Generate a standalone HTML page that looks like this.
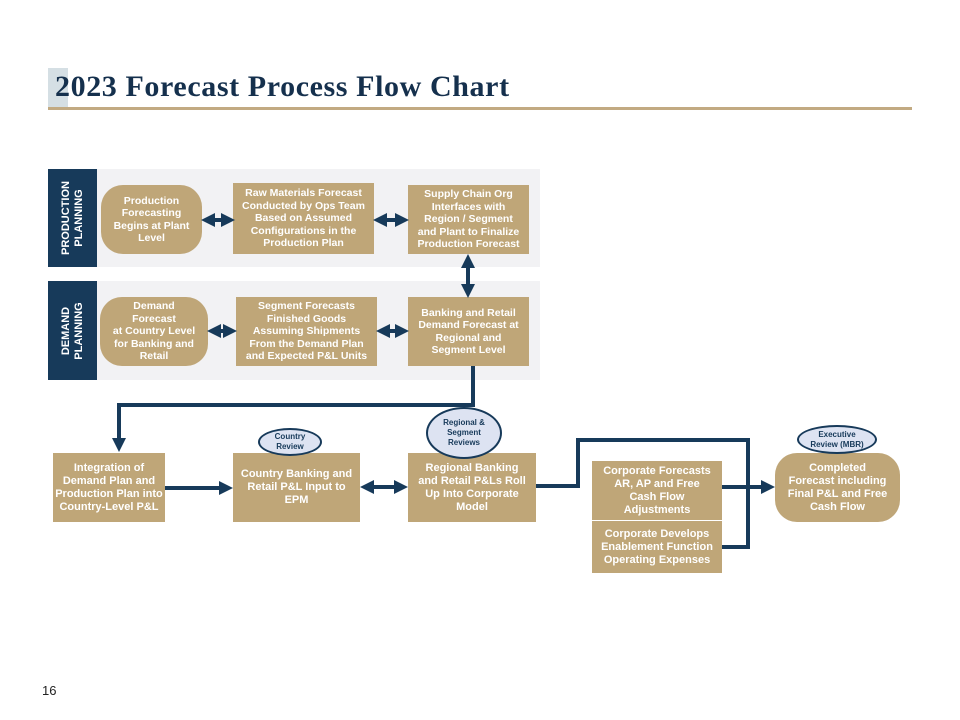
<!DOCTYPE html>
<html><head><style>
body{margin:0;background:#fff;}
.w{position:relative;width:960px;height:720px;overflow:hidden;font-family:"Liberation Sans",sans-serif;}
.a{position:absolute;box-sizing:border-box;}
.bx{position:absolute;box-sizing:border-box;background:#bfa678;color:#fff;font-weight:bold;font-size:10.5px;line-height:12.5px;text-align:center;display:flex;align-items:center;justify-content:center;}
.lab{position:absolute;background:#173a5a;color:#fff;font-weight:bold;font-size:11px;line-height:13px;}
.lab span{position:absolute;left:50%;top:50%;transform:translate(-50%,-50%) rotate(-90deg);white-space:nowrap;text-align:center;}
.el{position:absolute;box-sizing:border-box;border:2px solid #173a5a;background:#dde3f2;border-radius:50%;color:#173a5a;font-weight:bold;font-size:8px;line-height:10px;text-align:center;display:flex;align-items:center;justify-content:center;}
</style></head><body><div class="w">
<div class="a" style="left:48px;top:68px;width:20px;height:42px;background:#d5dfe4"></div>
<div class="a" style="left:55px;top:70px;font-family:'Liberation Serif',serif;font-weight:bold;font-size:30px;letter-spacing:0.6px;color:#15304d;white-space:nowrap">2023 Forecast Process Flow Chart</div>
<div class="a" style="left:48px;top:107px;width:864px;height:3px;background:#c2aa82"></div>

<div class="a" style="left:97px;top:169px;width:443px;height:98px;background:#f2f2f4"></div>
<div class="lab" style="left:48px;top:169px;width:49px;height:98px"><span>PRODUCTION<br>PLANNING</span></div>
<div class="a" style="left:97px;top:281px;width:443px;height:99px;background:#f2f2f4"></div>
<div class="lab" style="left:48px;top:281px;width:49px;height:99px"><span>DEMAND<br>PLANNING</span></div>

<div class="bx" style="left:101px;top:185px;width:101px;height:69px;border-radius:22px">Production<br>Forecasting<br>Begins at Plant<br>Level</div>
<div class="bx" style="left:233px;top:183px;width:141px;height:71px">Raw Materials Forecast<br>Conducted by Ops Team<br>Based on Assumed<br>Configurations in the<br>Production Plan</div>
<div class="bx" style="left:408px;top:185px;width:121px;height:69px">Supply Chain Org<br>Interfaces with<br>Region / Segment<br>and Plant to Finalize<br>Production Forecast</div>
<div class="bx" style="left:100px;top:297px;width:108px;height:69px;border-radius:22px">Demand<br>Forecast<br>at Country Level<br>for Banking and<br>Retail</div>
<div class="bx" style="left:236px;top:297px;width:141px;height:69px">Segment Forecasts<br>Finished Goods<br>Assuming Shipments<br>From the Demand Plan<br>and Expected P&amp;L Units</div>
<div class="bx" style="left:408px;top:297px;width:121px;height:69px">Banking and Retail<br>Demand Forecast at<br>Regional and<br>Segment Level</div>

<div class="bx" style="left:53px;top:453px;width:112px;height:69px;font-size:11px;line-height:13px">Integration of<br>Demand Plan and<br>Production Plan into<br>Country-Level P&amp;L</div>
<div class="bx" style="left:233px;top:453px;width:127px;height:69px;font-size:11px;line-height:13px">Country Banking and<br>Retail P&amp;L Input to<br>EPM</div>
<div class="bx" style="left:408px;top:453px;width:128px;height:69px;font-size:11px;line-height:13px">Regional Banking<br>and Retail P&amp;Ls Roll<br>Up Into Corporate<br>Model</div>
<div class="bx" style="left:592px;top:461px;width:130px;height:59px;font-size:11px;line-height:13px">Corporate Forecasts<br>AR, AP and Free<br>Cash Flow<br>Adjustments</div>
<div class="bx" style="left:592px;top:521px;width:130px;height:52px;font-size:11px;line-height:13px">Corporate Develops<br>Enablement Function<br>Operating Expenses</div>
<div class="bx" style="left:775px;top:453px;width:125px;height:69px;border-radius:22px;font-size:11px;line-height:13px">Completed<br>Forecast including<br>Final P&amp;L and Free<br>Cash Flow</div>

<svg class="a" style="left:0;top:0" width="960" height="720">
<defs>
<marker id="m" viewBox="0 0 10 10" refX="5" refY="5" markerWidth="3.5" markerHeight="3.5" orient="auto-start-reverse"><path d="M0,0L10,5L0,10z" fill="#173a5a"/></marker>
</defs>
<g stroke="#173a5a" stroke-width="4" fill="none">
<line x1="208" y1="220" x2="228" y2="220" marker-start="url(#m)" marker-end="url(#m)"/>
<line x1="380" y1="220" x2="402" y2="220" marker-start="url(#m)" marker-end="url(#m)"/>
<line x1="214" y1="331" x2="230" y2="331" marker-start="url(#m)" marker-end="url(#m)"/>
<line x1="383" y1="331" x2="402" y2="331" marker-start="url(#m)" marker-end="url(#m)"/>
<line x1="468" y1="261" x2="468" y2="291" marker-start="url(#m)" marker-end="url(#m)"/>
<polyline points="473,366 473,405 119,405 119,445" marker-end="url(#m)"/>
<line x1="165" y1="488" x2="226" y2="488" marker-end="url(#m)"/>
<line x1="367" y1="487" x2="401" y2="487" marker-start="url(#m)" marker-end="url(#m)"/>
<polyline points="536,486 578,486 578,440 748,440 748,547 722,547"/>
<line x1="722" y1="487" x2="768" y2="487" marker-end="url(#m)"/>
</g>
</svg>

<div class="el" style="left:258px;top:428px;width:64px;height:28px">Country<br>Review</div>
<div class="el" style="left:426px;top:407px;width:76px;height:52px">Regional &amp;<br>Segment<br>Reviews</div>
<div class="el" style="left:797px;top:425px;width:80px;height:29px">Executive<br>Review (MBR)</div>

<div class="a" style="left:42px;top:683px;font-size:13px;color:#222">16</div>
</div></body></html>
